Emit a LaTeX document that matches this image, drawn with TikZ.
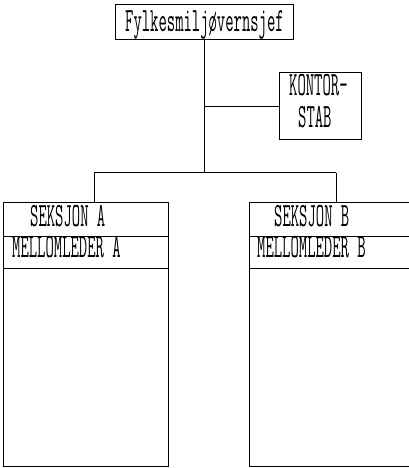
\documentclass[tikz,border=0pt]{standalone}
\usepackage{graphicx}
\newcommand\dmtext[1]{\scalebox{1}[2.1]{\fontsize{16.2}{17}\selectfont\ttfamily #1}}
\begin{document}
\begin{tikzpicture}[x=1pt,y=1pt,
  box/.style={draw, line width=1pt, rectangle, inner sep=0pt},
  lbl/.style={inner sep=0pt, anchor=base west},
  wire/.style={line width=1pt}]
\useasboundingbox (0,0) rectangle (408,468);
% boxes
\node[box, minimum width=178, minimum height=35] (chief) at (204,445.5) {};
\node[box, minimum width=82, minimum height=67] (kontor) at (320,361.5) {};
\node[box, minimum width=165, minimum height=34] (headA) at (85.5,248) {};
\node[box, minimum width=165, minimum height=32] (midA) at (85.5,215) {};
\node[box, minimum width=165, minimum height=198] (bodyA) at (85.5,100) {};
\node[box, minimum width=163, minimum height=34] (headB) at (330.5,248) {};
\node[box, minimum width=163, minimum height=32] (midB) at (330.5,215) {};
\node[box, minimum width=163, minimum height=198] (bodyB) at (330.5,100) {};
% labels
\node[lbl] (tchief) at (125,436.5) {\dmtext{Fylkesmiljøvernsjef}};
\node[lbl] (tk1) at (289,372) {\dmtext{KONTOR-}};
\node[lbl] (tk2) at (298,340) {\dmtext{STAB}};
\node[lbl] (tsa) at (30,241.5) {\dmtext{SEKSJON A}};
\node[lbl] (tma) at (12,210) {\dmtext{MELLOMLEDER A}};
\node[lbl] (tsb) at (274,241.5) {\dmtext{SEKSJON B}};
\node[lbl] (tmb) at (257,210) {\dmtext{MELLOMLEDER B}};
% connectors
\coordinate (hub) at (chief.south |- 0,295);
\coordinate (dropA) at (94,295);
\coordinate (dropB) at (336,295);
\draw[wire] (chief.south) -- (hub);
\draw[wire] (chief.south |- kontor.west) -- (kontor.west);
\draw[wire] (dropA) -- (dropB);
\draw[wire] (dropA) -- (dropA |- headA.north);
\draw[wire] (dropB) -- (dropB |- headB.north);
\end{tikzpicture}
\end{document}
